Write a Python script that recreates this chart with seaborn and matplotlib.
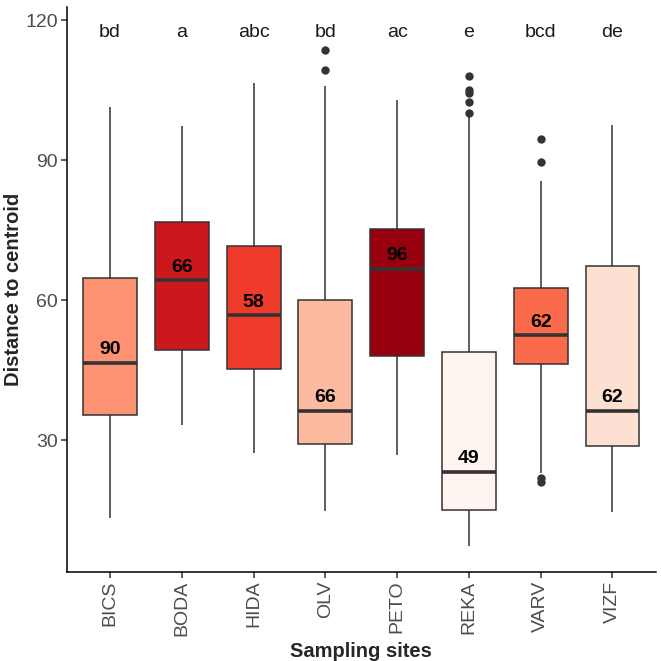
import matplotlib
matplotlib.use("Agg")
import matplotlib.pyplot as plt
import seaborn as sns
import pandas as pd

# Box summaries
sites = ["BICS", "BODA", "HIDA", "OLV", "PETO", "REKA", "VARV", "VIZF"]
whisker_low = [13.4, 33.4, 27.3, 14.9, 26.9, 7.4, 23.0, 14.6]
q1 = [35.5, 49.3, 45.3, 29.2, 48.1, 15.1, 46.4, 28.8]
median = [46.6, 64.3, 56.8, 36.4, 66.7, 23.3, 52.5, 36.3]
q3 = [64.8, 76.8, 71.6, 60.1, 75.3, 48.9, 62.6, 67.3]
whisker_high = [101.4, 97.3, 106.6, 105.9, 102.9, 99.4, 85.5, 97.5]
outliers_low = {"VARV": [21.9, 21.1]}
outliers_high = {"OLV": [109.4, 113.6],
                 "REKA": [100.1, 102.5, 104.4, 105.1, 108.0],
                 "VARV": [89.7, 94.6]}
n_labels = ["90", "66", "58", "66", "96", "49", "62", "62"]
letters = ["bd", "a", "abc", "bd", "ac", "e", "bcd", "de"]
box_colors = ["#FC9272", "#CB181D", "#EF3B2C", "#FCBBA1",
              "#99000D", "#FFF5F0", "#FB6A4A", "#FEE0D2"]


def rebuild(lo, a, med, b, hi, low_out, high_out):
    # points whose quartiles / whiskers / outliers match the summary
    m = max(len(low_out), len(high_out)) + 1
    below = low_out + [lo] * (m - len(low_out))
    above = [hi] * (m - len(high_out)) + high_out
    return below + [a] * m + [med] * m + [b] + above


rows = []
for i, s in enumerate(sites):
    vals = rebuild(whisker_low[i], q1[i], median[i], q3[i], whisker_high[i],
                   outliers_low.get(s, []), outliers_high.get(s, []))
    rows += [(s, v) for v in vals]
df = pd.DataFrame(rows, columns=["site", "dist"])

sns.set_theme(style="ticks")
plt.rcParams["font.family"] = ["Liberation Sans", "DejaVu Sans"]

fig = plt.figure(figsize=(6.61, 6.61), dpi=100)
ax = fig.add_axes([0.1014, 0.1351, 0.8903, 0.8550])

sns.boxplot(data=df, x="site", y="dist", hue="site", order=sites,
            hue_order=sites, palette=box_colors, legend=False, saturation=1,
            width=0.75, linecolor="#333333", linewidth=1.1, fliersize=5,
            showcaps=False, ax=ax,
            flierprops=dict(marker="o", markerfacecolor="#333333",
                            markeredgecolor="#333333"),
            medianprops=dict(linewidth=2.6, color="#333333"))

for i in range(len(sites)):
    ax.text(i, median[i] + 2.8, n_labels[i], ha="center", va="center",
            fontsize=14, fontweight="bold", color="black")
    ax.text(i, 117.4, letters[i], ha="center", va="center",
            fontsize=14, color="#1a1a1a")

ax.set_xlim(-0.6, len(sites) - 0.4)
ax.set_ylim(1.9, 122.9)
ax.set_yticks([30, 60, 90, 120])
ax.tick_params(axis="x", rotation=90)
ax.tick_params(length=4, width=1.1, pad=2.5, color="#333333",
               labelcolor="#4D4D4D", labelsize=14)
ax.set_xlabel("Sampling sites", fontsize=14.5, fontweight="bold", labelpad=4)
ax.set_ylabel("Distance to centroid", fontsize=14.5, fontweight="bold")
ax.yaxis.set_label_coords(-0.075, 0.5)
for side in ["left", "bottom"]:
    ax.spines[side].set_linewidth(1.1)
    ax.spines[side].set_color("black")
sns.despine(ax=ax)

fig.savefig("out.png", dpi=100)
